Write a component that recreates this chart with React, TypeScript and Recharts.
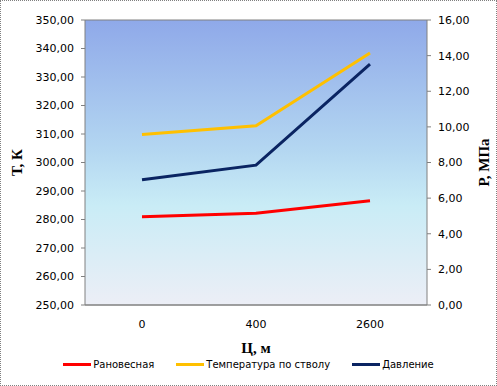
import {
  CartesianGrid,
  Label,
  Legend,
  Line,
  LineChart,
  XAxis,
  YAxis,
} from "recharts";

const depths = ["0", "400", "2600"];
const equilibrium = [281.0, 282.2, 286.6];
const wellTemp = [309.8, 312.9, 338.4];
const pressure = [7.03, 7.85, 13.52];

const seriesNames = ["Рановесная", "Температура по стволу", "Давление"];
const tempTicks = [250, 260, 270, 280, 290, 300, 310, 320, 330, 340, 350];
const pressTicks = [0, 2, 4, 6, 8, 10, 12, 14, 16];

const data = depths.map((d, i) => ({
  depth: d,
  eq: equilibrium[i],
  well: wellTemp[i],
  p: pressure[i],
}));

const fmt = (v: number) => v.toFixed(2).replace(".", ",");
const tickFont = { fontFamily: "DejaVu Sans", fontSize: 11, fill: "#000" };
const titleFont = "Liberation Serif";

function SideTitle({ viewBox, value, dx }: any) {
  const x = viewBox.x + dx;
  const y = viewBox.y + viewBox.height / 2;
  return (
    <text
      x={x}
      y={y}
      transform={`rotate(-90, ${x}, ${y})`}
      textAnchor="middle"
      dominantBaseline="central"
      fontFamily={titleFont}
      fontWeight="bold"
      fontSize={15}
      fill="#000"
    >
      {value}
    </text>
  );
}

// keep legend in series order, recharts sorts it by name otherwise
function LegendBox({ payload }: any) {
  const items = [...(payload || [])].sort(
    (a: any, b: any) => seriesNames.indexOf(a.value) - seriesNames.indexOf(b.value)
  );
  return (
    <div style={{ display: "flex", justifyContent: "center", fontFamily: "DejaVu Sans", fontSize: 10, color: "#000" }}>
      {items.map((e: any) => (
        <div key={e.value} style={{ display: "flex", alignItems: "center", margin: "0 11px" }}>
          <span style={{ display: "inline-block", width: 28, height: 3, background: e.color, marginRight: 2 }} />
          <span>{e.value}</span>
        </div>
      ))}
    </div>
  );
}

export default function App() {
  return (
    <div style={{ position: "absolute", top: 0, left: 0, width: 495, height: 384, border: "1px dotted #808080", background: "#fff" }}>
      <LineChart width={495} height={384} data={data} margin={{ top: 19, right: 0, bottom: 0, left: 0 }}>
        <defs>
          <linearGradient id="plotBg" x1="0" y1="0" x2="0" y2="1">
            <stop offset="0%" stopColor="#8fa9e9" />
            <stop offset="45%" stopColor="#b3d6f1" />
            <stop offset="65%" stopColor="#c9ecf6" />
            <stop offset="100%" stopColor="#eceef6" />
          </linearGradient>
        </defs>
        <CartesianGrid fill="url(#plotBg)" fillOpacity={1} stroke="#808080" vertical={false} />
        <XAxis
          dataKey="depth"
          scale="band"
          height={56}
          tickLine={false}
          tickSize={10}
          tickMargin={5}
          axisLine={{ stroke: "#808080" }}
          tick={tickFont}
        >
          <Label value="Ц, м" position="insideBottom" offset={8} fontFamily={titleFont} fontWeight="bold" fontSize={15} fill="#000" />
        </XAxis>
        <YAxis
          yAxisId="t"
          width={84}
          domain={[250, 350]}
          ticks={tempTicks}
          tickFormatter={fmt}
          tick={tickFont}
          tickSize={4}
          tickMargin={7}
          axisLine={{ stroke: "#808080" }}
          tickLine={{ stroke: "#808080" }}
          label={<SideTitle value="Т, К" dx={16} />}
        />
        <YAxis
          yAxisId="p"
          orientation="right"
          width={69}
          domain={[0, 16]}
          ticks={pressTicks}
          tickFormatter={fmt}
          tick={tickFont}
          tickSize={4}
          tickMargin={7}
          axisLine={{ stroke: "#808080" }}
          tickLine={{ stroke: "#808080" }}
          label={<SideTitle value="Р, МПа" dx={57} />}
        />
        <Legend verticalAlign="bottom" height={24} content={<LegendBox />} wrapperStyle={{ bottom: 2 }} />
        <Line yAxisId="t" dataKey="eq" name={seriesNames[0]} stroke="#ff0000" strokeWidth={3} dot={false} isAnimationActive={false} />
        <Line yAxisId="t" dataKey="well" name={seriesNames[1]} stroke="#ffc000" strokeWidth={3} dot={false} isAnimationActive={false} />
        <Line yAxisId="p" dataKey="p" name={seriesNames[2]} stroke="#0a2462" strokeWidth={3} dot={false} isAnimationActive={false} />
      </LineChart>
    </div>
  );
}
